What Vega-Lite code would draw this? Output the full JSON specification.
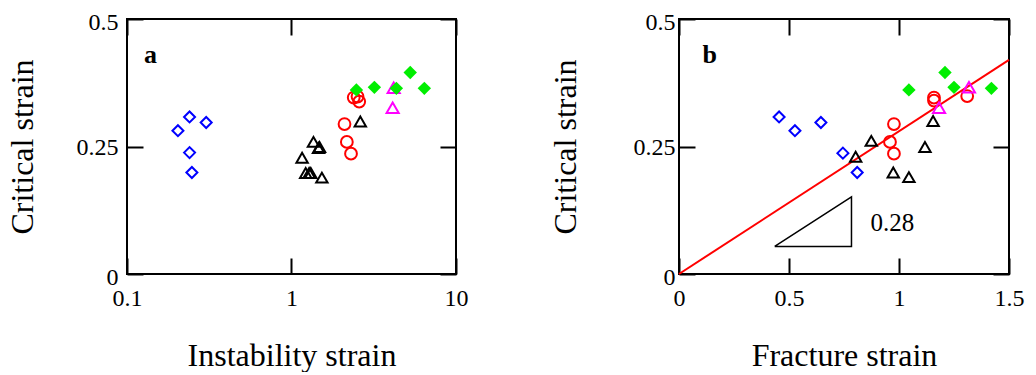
{
  "$schema": "https://vega.github.io/schema/vega-lite/v6.json",
  "background": "white",
  "padding": {"left": 5, "top": 9, "right": 0, "bottom": 0},
  "spacing": 79,
  "datasets": {
    "a": [
      {"x": 0.240, "y": 0.308, "group": "g1"},
      {"x": 0.303, "y": 0.297, "group": "g1"},
      {"x": 0.204, "y": 0.281, "group": "g1"},
      {"x": 0.240, "y": 0.238, "group": "g1"},
      {"x": 0.248, "y": 0.199, "group": "g1"},
      {"x": 1.36, "y": 0.259, "group": "g2"},
      {"x": 1.48, "y": 0.249, "group": "g2"},
      {"x": 1.46, "y": 0.247, "group": "g2"},
      {"x": 1.16, "y": 0.228, "group": "g2"},
      {"x": 1.22, "y": 0.198, "group": "g2"},
      {"x": 1.31, "y": 0.198, "group": "g2"},
      {"x": 1.28, "y": 0.198, "group": "g2"},
      {"x": 1.53, "y": 0.189, "group": "g2"},
      {"x": 2.62, "y": 0.299, "group": "g2"},
      {"x": 2.10, "y": 0.294, "group": "g3"},
      {"x": 2.17, "y": 0.259, "group": "g3"},
      {"x": 2.30, "y": 0.236, "group": "g3"},
      {"x": 2.39, "y": 0.346, "group": "g3"},
      {"x": 2.52, "y": 0.348, "group": "g3"},
      {"x": 2.58, "y": 0.338, "group": "g3"},
      {"x": 4.18, "y": 0.365, "group": "g4"},
      {"x": 4.12, "y": 0.326, "group": "g4"},
      {"x": 2.48, "y": 0.361, "group": "g5"},
      {"x": 3.19, "y": 0.366, "group": "g5"},
      {"x": 4.34, "y": 0.364, "group": "g5"},
      {"x": 5.27, "y": 0.395, "group": "g5"},
      {"x": 6.42, "y": 0.364, "group": "g5"}
    ],
    "b": [
      {"x": 0.455, "y": 0.308, "group": "g1"},
      {"x": 0.527, "y": 0.281, "group": "g1"},
      {"x": 0.645, "y": 0.297, "group": "g1"},
      {"x": 0.745, "y": 0.237, "group": "g1"},
      {"x": 0.810, "y": 0.199, "group": "g1"},
      {"x": 0.874, "y": 0.261, "group": "g2"},
      {"x": 0.803, "y": 0.230, "group": "g2"},
      {"x": 0.974, "y": 0.199, "group": "g2"},
      {"x": 1.045, "y": 0.190, "group": "g2"},
      {"x": 1.118, "y": 0.249, "group": "g2"},
      {"x": 1.155, "y": 0.300, "group": "g2"},
      {"x": 0.977, "y": 0.294, "group": "g3"},
      {"x": 0.959, "y": 0.259, "group": "g3"},
      {"x": 0.977, "y": 0.236, "group": "g3"},
      {"x": 1.159, "y": 0.346, "group": "g3"},
      {"x": 1.159, "y": 0.340, "group": "g3"},
      {"x": 1.310, "y": 0.349, "group": "g3"},
      {"x": 1.182, "y": 0.326, "group": "g4"},
      {"x": 1.318, "y": 0.366, "group": "g4"},
      {"x": 1.045, "y": 0.361, "group": "g5"},
      {"x": 1.209, "y": 0.395, "group": "g5"},
      {"x": 1.25, "y": 0.366, "group": "g5"},
      {"x": 1.42, "y": 0.364, "group": "g5"}
    ],
    "fit": [{"x": 0, "y": 0}, {"x": 1.5, "y": 0.42}],
    "slope": [
      {"x": 0.435, "y": 0.054, "o": 1},
      {"x": 0.784, "y": 0.054, "o": 2},
      {"x": 0.784, "y": 0.151, "o": 3},
      {"x": 0.435, "y": 0.054, "o": 4}
    ]
  },
  "config": {
    "font": "Liberation Serif",
    "view": {"stroke": "black", "strokeWidth": 2},
    "axis": {
      "labelFont": "Liberation Serif",
      "titleFont": "Liberation Serif",
      "labelFontSize": 24,
      "titleFontSize": 32,
      "titleFontWeight": "normal",
      "labelColor": "black",
      "titleColor": "black",
      "labelFlush": false,
      "ticks": false,
      "domain": false,
      "grid": false,
      "gridColor": "black",
      "gridOpacity": 1,
      "gridWidth": 2
    }
  },
  "hconcat": [
    {
      "width": 329,
      "height": 255,
      "layer": [
        {
          "data": {"name": "a"},
          "transform": [{"filter": "datum.group != 'g5'"}],
          "mark": {"type": "point", "filled": false, "strokeWidth": 2, "opacity": 1},
          "encoding": {
            "x": {"field": "x", "type": "quantitative",
              "scale": {"type": "log", "domain": [0.1, 10], "nice": false},
              "axis": {"orient": "bottom", "values": [0.1, 1, 10], "format": ".1~f", "title": "Instability strain", "labelPadding": 12, "titlePadding": 30, "labelBaseline": "top", "grid": true, "gridDash": [16, 223]}},
            "y": {"field": "y", "type": "quantitative",
              "scale": {"domain": [0, 0.5], "nice": false},
              "axis": {"orient": "left", "values": [0, 0.25, 0.5], "format": ".2~f", "title": "Critical strain", "labelPadding": 9, "titlePadding": 37, "grid": true, "gridDash": [16, 297],
                "labelBaseline": {"condition": {"test": "datum.value == 0.25", "value": "middle"}, "value": "top"},
                "labelOffset": {"condition": {"test": "datum.value == 0.25", "value": 1}, "value": -9}}},
            "shape": {"field": "group", "type": "nominal", "legend": null,
              "scale": {"domain": ["g1", "g2", "g3", "g4", "g5"], "range": ["diamond", "triangle-up", "circle", "triangle-up", "diamond"]}},
            "stroke": {"field": "group", "type": "nominal", "legend": null,
              "scale": {"domain": ["g1", "g2", "g3", "g4", "g5"], "range": ["#0000ff", "#000000", "#ff0000", "#ff00ff", "#00ee00"]}},
            "size": {"field": "group", "type": "nominal", "legend": null,
              "scale": {"domain": ["g1", "g2", "g3", "g4", "g5"], "range": [121, 156, 196, 156, 180]}}
          }
        },
        {
          "data": {"name": "a"},
          "transform": [{"filter": "datum.group == 'g5'"}],
          "mark": {"type": "point", "shape": "diamond", "filled": true, "color": "#00ee00", "opacity": 1, "size": 180},
          "encoding": {
            "x": {"field": "x", "type": "quantitative", "axis": null},
            "y": {"field": "y", "type": "quantitative", "axis": null}
          }
        },
        {
          "data": {"values": [{"x": 0.139, "y": 0.43, "t": "a"}]},
          "mark": {"type": "text", "fontSize": 26, "fontWeight": "bold", "font": "Liberation Serif", "color": "black", "baseline": "middle", "align": "center"},
          "encoding": {
            "x": {"field": "x", "type": "quantitative", "axis": null},
            "y": {"field": "y", "type": "quantitative", "axis": null},
            "text": {"field": "t"}
          }
        }
      ],
      "resolve": {"axis": {"x": "independent", "y": "independent"}}
    },
    {
      "width": 330,
      "height": 255,
      "layer": [
        {
          "data": {"name": "fit"},
          "mark": {"type": "line", "color": "#ff0000", "strokeWidth": 2},
          "encoding": {
            "x": {"field": "x", "type": "quantitative", "scale": {"domain": [0, 1.5], "nice": false},
              "axis": {"orient": "bottom", "values": [0, 0.5, 1, 1.5], "format": ".1~f", "title": "Fracture strain", "labelPadding": 12, "titlePadding": 30, "labelBaseline": "top", "grid": true, "gridDash": [16, 223]}},
            "y": {"field": "y", "type": "quantitative", "scale": {"domain": [0, 0.5], "nice": false},
              "axis": {"orient": "left", "values": [0, 0.25, 0.5], "format": ".2~f", "title": "Critical strain", "labelPadding": 4, "titlePadding": 51, "grid": true, "gridDash": [16, 298],
                "labelBaseline": {"condition": {"test": "datum.value == 0.25", "value": "middle"}, "value": "top"},
                "labelOffset": {"condition": {"test": "datum.value == 0.25", "value": 1}, "value": -9}}}
          }
        },
        {
          "data": {"name": "slope"},
          "mark": {"type": "line", "color": "black", "strokeWidth": 1.5},
          "encoding": {
            "x": {"field": "x", "type": "quantitative", "axis": null},
            "y": {"field": "y", "type": "quantitative", "axis": null},
            "order": {"field": "o", "type": "quantitative"}
          }
        },
        {
          "data": {"values": [{"x": 0.87, "y": 0.10, "t": "0.28"}]},
          "mark": {"type": "text", "fontSize": 25, "font": "Liberation Serif", "color": "black", "baseline": "middle", "align": "left"},
          "encoding": {
            "x": {"field": "x", "type": "quantitative", "axis": null},
            "y": {"field": "y", "type": "quantitative", "axis": null},
            "text": {"field": "t"}
          }
        },
        {
          "data": {"values": [{"x": 0.14, "y": 0.43, "t": "b"}]},
          "mark": {"type": "text", "fontSize": 26, "fontWeight": "bold", "font": "Liberation Serif", "color": "black", "baseline": "middle", "align": "center"},
          "encoding": {
            "x": {"field": "x", "type": "quantitative", "axis": null},
            "y": {"field": "y", "type": "quantitative", "axis": null},
            "text": {"field": "t"}
          }
        },
        {
          "data": {"name": "b"},
          "transform": [{"filter": "datum.group != 'g5'"}],
          "mark": {"type": "point", "filled": false, "strokeWidth": 2, "opacity": 1},
          "encoding": {
            "x": {"field": "x", "type": "quantitative", "axis": null},
            "y": {"field": "y", "type": "quantitative", "axis": null},
            "shape": {"field": "group", "type": "nominal", "legend": null,
              "scale": {"domain": ["g1", "g2", "g3", "g4", "g5"], "range": ["diamond", "triangle-up", "circle", "triangle-up", "diamond"]}},
            "stroke": {"field": "group", "type": "nominal", "legend": null,
              "scale": {"domain": ["g1", "g2", "g3", "g4", "g5"], "range": ["#0000ff", "#000000", "#ff0000", "#ff00ff", "#00ee00"]}},
            "size": {"field": "group", "type": "nominal", "legend": null,
              "scale": {"domain": ["g1", "g2", "g3", "g4", "g5"], "range": [121, 156, 196, 156, 180]}}
          }
        },
        {
          "data": {"name": "b"},
          "transform": [{"filter": "datum.group == 'g5'"}],
          "mark": {"type": "point", "shape": "diamond", "filled": true, "color": "#00ee00", "opacity": 1, "size": 180},
          "encoding": {
            "x": {"field": "x", "type": "quantitative", "axis": null},
            "y": {"field": "y", "type": "quantitative", "axis": null}
          }
        }
      ],
      "resolve": {"axis": {"x": "independent", "y": "independent"}}
    }
  ]
}
